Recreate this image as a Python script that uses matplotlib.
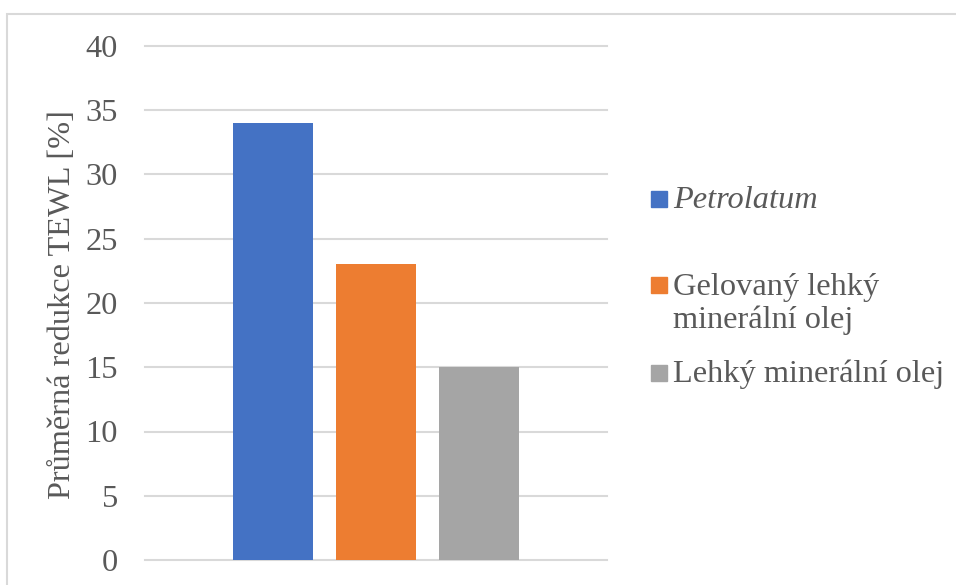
import matplotlib.pyplot as plt
from matplotlib.patches import Rectangle

# Average TEWL reduction per occlusive agent
labels = ["Petrolatum", "Gelovaný lehký\nminerální olej", "Lehký minerální olej"]
values = [34, 23, 15]
colors = ["#4472C4", "#ED7D31", "#A5A5A5"]
yticks = [0, 5, 10, 15, 20, 25, 30, 35, 40]

TEXT = "#595959"
GRID = "#d9d9d9"
FS = 23.3
W, H = 956, 585

plt.rcParams["font.family"] = ["Liberation Serif", "DejaVu Serif"]

fig = plt.figure(figsize=(W / 100, H / 100), dpi=100, facecolor="white")

# chart frame (left + top edge visible)
fig.add_artist(Rectangle((7 / W, -0.1), 1.2, (H - 14) / H + 0.1,
                         transform=fig.transFigure, fill=False,
                         edgecolor=GRID, lw=1.5))

ax = fig.add_axes([145 / W, 25 / H, 462 / W, 514 / H])
x = range(len(values))
ax.bar(x, values, width=0.78, color=colors, zorder=2)

ax.set_xlim(-1.253, 3.253)
ax.set_ylim(0, 40)
ax.set_yticks(yticks)
ax.set_xticks([])
ax.tick_params(axis="y", length=0, pad=19.5, labelsize=FS, labelcolor=TEXT)
for s in ax.spines.values():
    s.set_visible(False)
for t in yticks:
    ax.axhline(t, color=GRID, lw=1.5, zorder=1, clip_on=False)

fig.text(63 / W, 1 - 305 / H, "Průměrná redukce TEWL [%]", rotation=90,
         ha="center", va="center", fontsize=FS, color=TEXT)

# legend entries: colour square + label
legend_rows = [(199, 200), (285, 304), (373, 374)]
for (sq_y, txt_y), label, color in zip(legend_rows, labels, colors):
    fig.add_artist(Rectangle((651 / W, 1 - (sq_y + 8) / H), 16 / W, 16 / H,
                             transform=fig.transFigure, color=color))
    fig.text(673 / W, 1 - txt_y / H, label, ha="left", va="center",
             fontsize=FS, color=TEXT, linespacing=1.15,
             style="italic" if label == "Petrolatum" else "normal")

fig.savefig("out.png", dpi=100, facecolor="white")
